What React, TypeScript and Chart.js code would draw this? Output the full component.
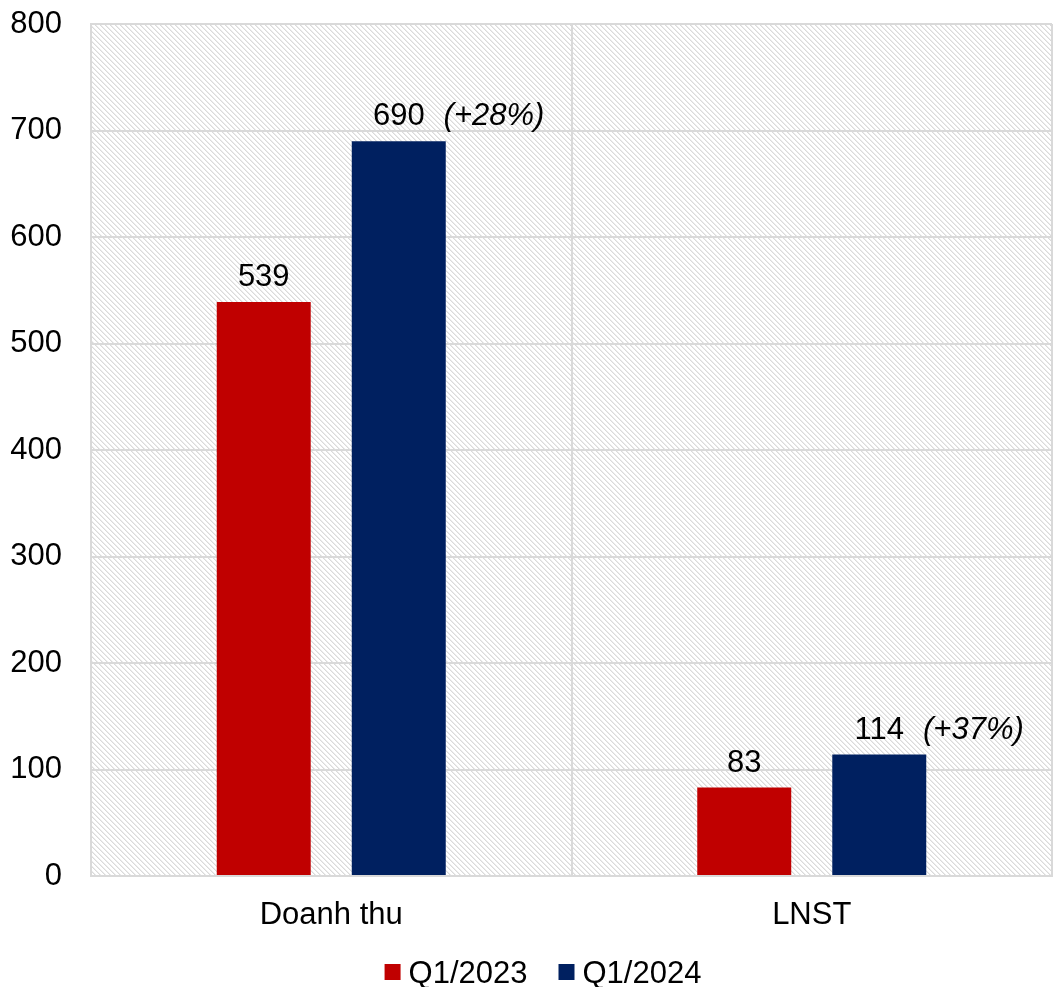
import React, { useEffect, useRef } from "react";
import { Chart, registerables } from "chart.js";

Chart.register(...registerables);

const categories = ["Doanh thu", "LNST"];
const seriesNames = ["Q1/2023", "Q1/2024"];
const q2023 = [539, 83];
const q2024 = [690, 114];
const growthLabels = ["(+28%)", "(+37%)"];
const yTicks = [0, 100, 200, 300, 400, 500, 600, 700, 800];
const colors = ["#C00000", "#002060"];

const FONT = "'Liberation Sans', Arial, sans-serif";
const FS = 31;

function makePattern(ctx: CanvasRenderingContext2D) {
  const c = document.createElement("canvas");
  c.width = 5;
  c.height = 5;
  const p = c.getContext("2d")!;
  p.fillStyle = "#ffffff";
  p.fillRect(0, 0, 5, 5);
  p.fillStyle = "#dadada";
  for (let i = 0; i < 5; i++) p.fillRect(i, i, 1, 1);
  p.fillStyle = "#ececec";
  for (let i = 0; i < 5; i++) p.fillRect((i + 1) % 5, i, 1, 1);
  return ctx.createPattern(c, "repeat");
}

const hatchPlugin = {
  id: "hatch",
  beforeDraw(chart: any) {
    const { ctx, chartArea } = chart;
    ctx.save();
    const pat = makePattern(ctx);
    if (pat) ctx.fillStyle = pat;
    ctx.fillRect(chartArea.left, chartArea.top, chartArea.right - chartArea.left, chartArea.bottom - chartArea.top);
    ctx.restore();
  },
};

const labelPlugin = {
  id: "valueLabels",
  afterDatasetsDraw(chart: any) {
    const { ctx } = chart;
    ctx.save();
    ctx.fillStyle = "#000";
    ctx.textBaseline = "alphabetic";
    chart.data.datasets.forEach((ds: any, di: number) => {
      const meta = chart.getDatasetMeta(di);
      meta.data.forEach((el: any, i: number) => {
        const v = String(ds.data[i]);
        ctx.font = `${FS}px ${FONT}`;
        ctx.textAlign = "center";
        const y = el.y - 16;
        ctx.fillText(v, el.x, y);
        if (di === 1) {
          const w = ctx.measureText(v).width;
          ctx.font = `italic ${FS}px ${FONT}`;
          ctx.textAlign = "left";
          ctx.fillText(growthLabels[i], el.x + w / 2 + 19, y);
        }
      });
    });
    ctx.restore();
  },
};

const legendPlugin = {
  id: "customLegend",
  afterDraw(chart: any) {
    const { ctx } = chart;
    ctx.save();
    ctx.font = `${FS}px ${FONT}`;
    const box = 16;
    const gapText = 8;
    const gapItem = 31;
    const items = chart.data.datasets.map((ds: any) => ({
      text: ds.label,
      color: ds.backgroundColor,
      w: ctx.measureText(ds.label).width,
    }));
    const total = items.reduce((a: number, it: any) => a + box + gapText + it.w, 0) + gapItem * (items.length - 1);
    let x = 543 - total / 2;
    const cy = 972;
    ctx.textBaseline = "alphabetic";
    ctx.textAlign = "left";
    items.forEach((it: any) => {
      ctx.fillStyle = it.color;
      ctx.fillRect(x, cy - box / 2, box, box);
      ctx.fillStyle = "#000";
      ctx.fillText(it.text, x + box + gapText, cy + 11);
      x += box + gapText + it.w + gapItem;
    });
    ctx.restore();
  },
};

export default function App() {
  const ref = useRef<HTMLCanvasElement>(null);
  useEffect(() => {
    document.body.style.margin = "0";
    const chart = new Chart(ref.current!, {
      type: "bar",
      data: {
        labels: categories,
        datasets: [
          { label: seriesNames[0], data: q2023, backgroundColor: colors[0] },
          { label: seriesNames[1], data: q2024, backgroundColor: colors[1] },
        ],
      },
      options: {
        animation: false,
        responsive: false,
        maintainAspectRatio: false,
        layout: { padding: { top: 24, right: 1, left: 0, bottom: 53 } },
        datasets: { bar: { categoryPercentage: 0.562, barPercentage: 0.696 } },
        scales: {
          x: {
            afterFit: (s: any) => { s.height = 58; s.paddingLeft = 0; s.paddingRight = 0; },
            grid: { color: "#d9d9d9", lineWidth: 2, offset: true, drawTicks: false },
            border: { color: "#d9d9d9", width: 2 },
            ticks: { color: "#000", font: { family: FONT, size: FS }, padding: 21 },
          },
          y: {
            min: 0,
            max: 800,
            afterFit: (s: any) => { s.width = 91; s.paddingTop = 0; s.paddingBottom = 0; },
            afterBuildTicks: (s: any) => { s.ticks = yTicks.map((v) => ({ value: v })); },
            grid: { color: "#d9d9d9", lineWidth: 2, drawTicks: false },
            border: { color: "#d9d9d9", width: 2 },
            ticks: { color: "#000", font: { family: FONT, size: FS }, padding: 29 },
          },
        },
        plugins: {
          legend: { display: false },
          tooltip: { enabled: false },
        },
      },
      plugins: [hatchPlugin, labelPlugin, legendPlugin],
    } as any);
    return () => chart.destroy();
  }, []);
  return (
    <div style={{ position: "absolute", left: 0, top: 0, width: 1053, height: 987 }}>
      <canvas ref={ref} width={1053} height={987} style={{ width: 1053, height: 987 }} />
    </div>
  );
}
